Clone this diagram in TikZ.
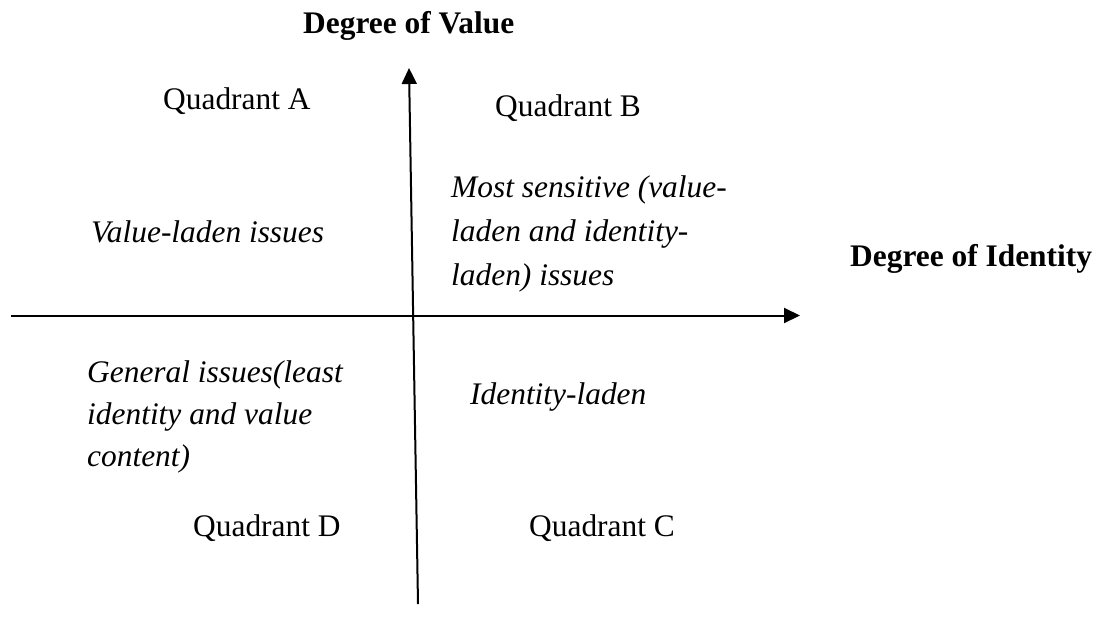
\documentclass[tikz,border=0pt]{standalone}
\usepackage{fontspec}
\setmainfont{Liberation Serif}[ItalicFont={Liberation Serif Italic},BoldFont={Liberation Serif Bold}]
\usetikzlibrary{arrows.meta}
\begin{document}
\begin{tikzpicture}[x=1pt,y=-1pt,
  lbl/.style={inner sep=0pt, anchor=base west, font=\fontsize{31.4}{43}\selectfont},
  ttl/.style={lbl, font=\fontsize{31.4}{43}\selectfont\bfseries},
  itl/.style={lbl, font=\fontsize{31.4}{43}\selectfont\itshape},
  multi/.style={inner sep=0pt, anchor=north west, align=left, font=\fontsize{31.4}{#1}\selectfont\itshape},
  axis/.style={line width=2pt, -{Triangle[length=16pt,width=15pt]}}]
\useasboundingbox (0,0) rectangle (1115,627);
% axes
\coordinate (vb) at (418,604);
\coordinate (vt) at (409,68);
\coordinate (hl) at (11,315.5);
\coordinate (hr) at (800,315.5);
\draw[axis] (vb) -- (vt);
\draw[axis] (hl) -- (hr);
% axis titles
\node[ttl] (dv) at (303,33) {Degree of Value};
\node[ttl] (di) at (850,266) {Degree of Identity};
% quadrant names
\node[lbl] (qa) at (163,109) {Quadrant A};
\node[lbl] (qb) at (495,116) {Quadrant B};
\node[lbl] (qd) at (193,536) {Quadrant D};
\node[lbl] (qc) at (529,536) {Quadrant C};
% descriptions
\node[itl] (va) at (91,242) {Value-laden issues};
\node[multi=44] (ms) at (451,166.2) {\strut Most sensitive (value-\\\strut laden and identity-\\\strut laden) issues};
\node[multi=42] (gi) at (87,352.6) {\strut General issues(least\\\strut identity and value\\\strut content)};
\node[itl] (il) at (470,404) {Identity-laden};
\end{tikzpicture}
\end{document}
